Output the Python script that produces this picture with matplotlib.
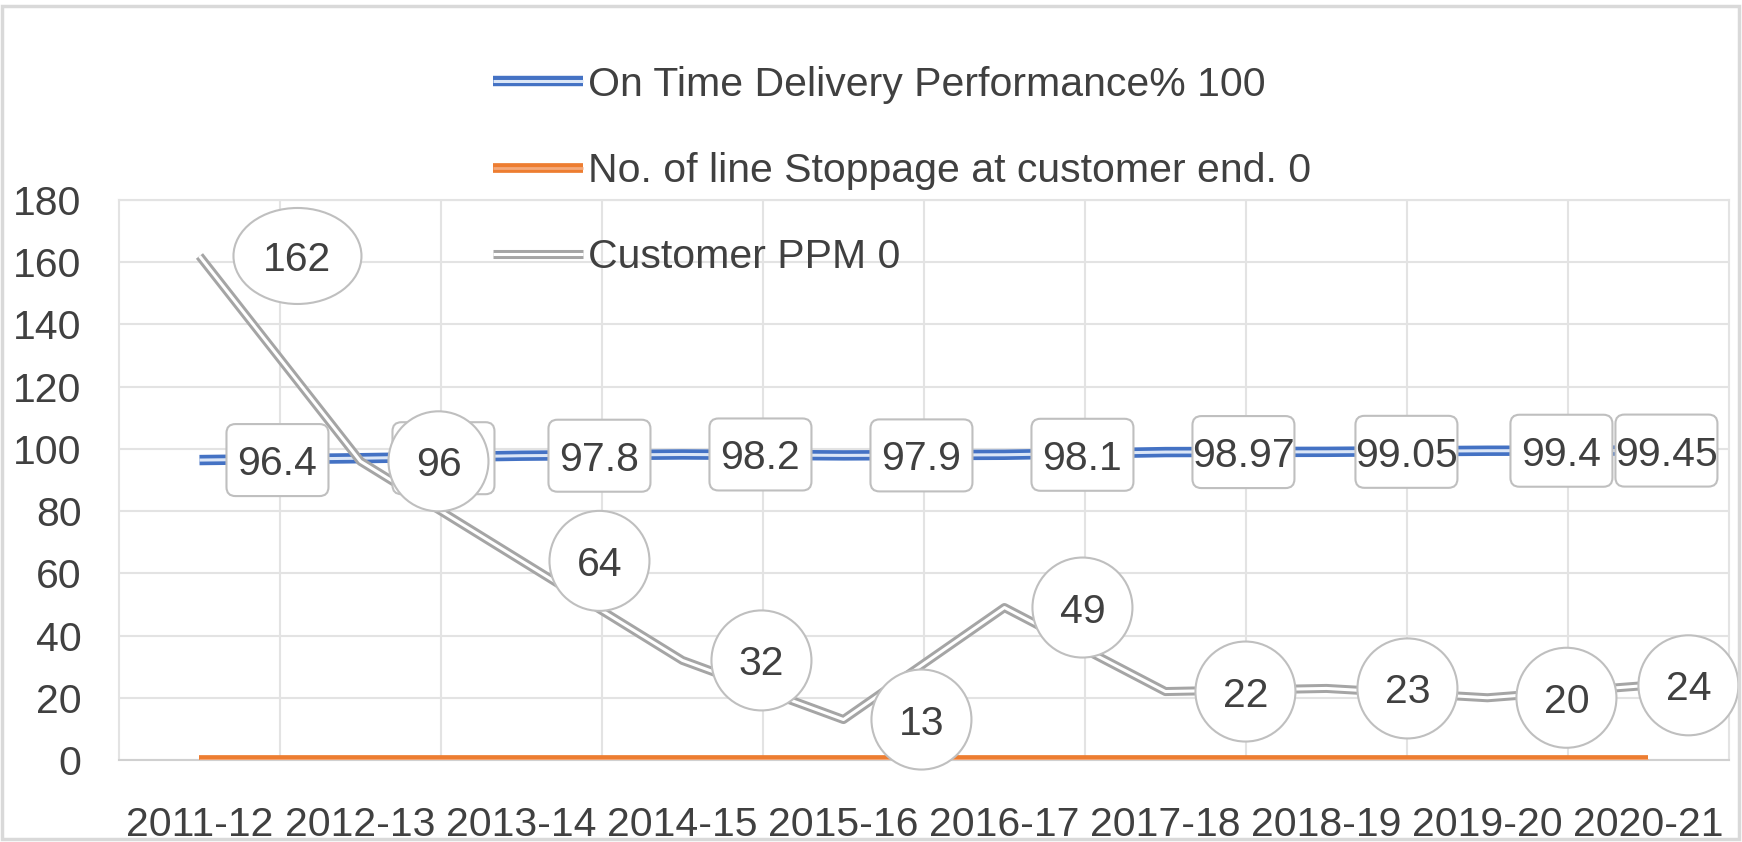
import matplotlib
matplotlib.use("Agg")
import matplotlib.pyplot as plt
import matplotlib.patheffects as pe
from matplotlib.patches import FancyBboxPatch, Ellipse, Rectangle
from matplotlib.transforms import Affine2D, ScaledTranslation

plt.rcParams['font.family'] = ['Liberation Sans', 'DejaVu Sans']

# data
years = ['2011-12', '2012-13', '2013-14', '2014-15', '2015-16',
         '2016-17', '2017-18', '2018-19', '2019-20', '2020-21']
otd = [96.4, 97.0, 97.8, 98.2, 97.9, 98.1, 98.97, 99.05, 99.4, 99.45]
# the 2012-13 box sits behind the "96" circle, so its text is not visible
otd_labels = ['96.4', '', '97.8', '98.2', '97.9', '98.1', '98.97', '99.05', '99.4', '99.45']
stoppage = [0, 0, 0, 0, 0, 0, 0, 0, 0, 0]
ppm = [162, 96, 64, 32, 13, 49, 22, 23, 20, 24]
legend_names = ['On Time Delivery Performance% 100',
                'No. of line Stoppage at customer end. 0',
                'Customer PPM 0']

BLUE = '#4472C4'
ORANGE = '#ED7D31'
GRAY = '#A5A5A5'
TEXT = '#404040'
FS = 29.5

fig = plt.figure(figsize=(17.42, 8.42), dpi=100)
ax = fig.add_axes([0.0683, 0.0974, 0.9242, 0.6651])

x = list(range(len(years)))


def double_line(xs, ys, color, inner, lw_out, lw_in, z, label):
    ln, = ax.plot(xs, ys, color=inner, lw=lw_in, zorder=z, label=label,
                  solid_capstyle='butt',
                  path_effects=[pe.Stroke(linewidth=lw_out, foreground=color), pe.Normal()])
    return ln


l1 = double_line(x, otd, BLUE, '#dbe6f7', 7.5, 2.2, 3, legend_names[0])
l2 = double_line(x, stoppage, ORANGE, '#f4a97a', 7.0, 2.0, 3, legend_names[1])
l3 = double_line(x, ppm, GRAY, 'white', 6.5, 2.2, 4, legend_names[2])

ax.set_xlim(-0.5, len(years) - 0.5)
ax.set_ylim(0, 180)
ax.set_yticks(range(0, 181, 20))
ax.set_xticks(x)
ax.set_xticklabels(years)
ax.set_xticks([i + 0.5 for i in x[:-1]], minor=True)
ax.grid(True, which='major', axis='y', color='#e3e3e3', lw=1.5)
ax.grid(True, which='minor', axis='x', color='#e3e3e3', lw=1.5)
ax.tick_params(which='both', length=0)
ax.tick_params(axis='x', labelsize=FS, colors=TEXT, pad=33)
ax.tick_params(axis='y', labelsize=FS, colors=TEXT, pad=27)
for s in ax.spines.values():
    s.set_color('#e3e3e3')
    s.set_linewidth(1.5)
ax.spines['bottom'].set_color('#d0d0d0')


def place(xv, yv, dx):
    return Affine2D().translate(dx, 0) + ScaledTranslation(xv, yv, ax.transData)


# on-time delivery labels: fixed size rounded boxes, right of the point
otd_dx = [78, 83, 78, 78, 78, 78, 78, 80, 74, 18]
for i, v in enumerate(otd):
    tr = place(i, v, otd_dx[i])
    box = FancyBboxPatch((-51, -36), 102, 72, boxstyle='round,pad=0,rounding_size=9',
                         fc='white', ec='#bfbfbf', lw=1.5, transform=tr, zorder=5,
                         clip_on=False)
    ax.add_patch(box)
    if otd_labels[i]:
        ax.text(0, 0, otd_labels[i], transform=tr, ha='center', va='center_baseline',
                fontsize=FS, color=TEXT, zorder=5.1, clip_on=False)

# customer ppm labels: circles, right of the point
ppm_dx = [98, 78, 78, 79, 78, 78, 80, 81, 79, 40]
for i, v in enumerate(ppm):
    tr = place(i, v, ppm_dx[i])
    w = 128 if v >= 100 else 100
    h = 96 if v >= 100 else 100
    ax.add_patch(Ellipse((0, 0), w, h, fc='white', ec='#bfbfbf', lw=1.5,
                         transform=tr, zorder=6, clip_on=False))
    ax.text(0, 0, str(v), transform=tr, ha='center', va='center_baseline',
            fontsize=FS, color=TEXT, zorder=6.1, clip_on=False)

leg = fig.legend(handles=[l1, l2, l3], loc='upper left', bbox_to_anchor=(0.262, 0.966),
                 frameon=False, fontsize=FS, handlelength=2.2, handletextpad=0.1,
                 labelspacing=1.18, labelcolor=TEXT)
leg.set_zorder(10)

fig.patches.append(Rectangle((0.001, 0.003), 0.997, 0.99, transform=fig.transFigure,
                             fill=False, ec='#d9d9d9', lw=2.5))

fig.savefig('out.png', dpi=100)
